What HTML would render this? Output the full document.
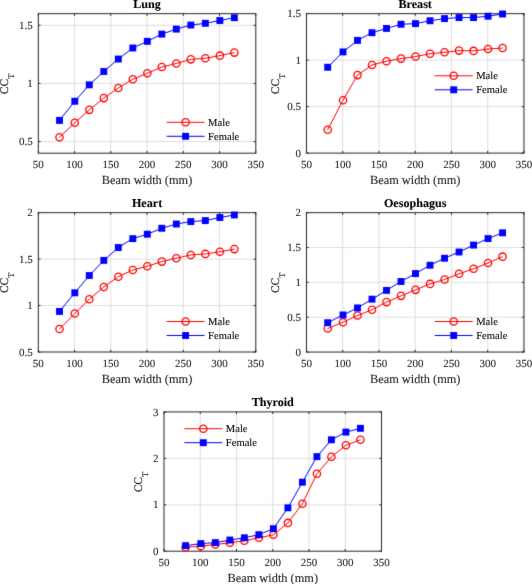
<!DOCTYPE html>
<html><head><meta charset="utf-8"><style>
html,body{margin:0;padding:0;background:#fff;width:532px;height:584px;overflow:hidden}
svg{display:block}
text{font-family:"Liberation Serif",serif;text-rendering:geometricPrecision;fill:#262626;stroke:#262626;stroke-width:0.1px}
.tl{font-size:11px}
.lb{font-size:12.35px}
.yl{font-size:11.5px;stroke-width:0.2px}
.tt{font-size:12.1px;font-weight:bold;fill:#000;stroke:#000}
.lg{font-size:10.6px;fill:#000;stroke:#000}
.g{stroke:#dedede;stroke-width:1.0}
.ax{fill:none;stroke:#262626;stroke-width:1.0}
.rl{fill:none;stroke:#f00;stroke-width:1.0}
.bl{fill:none;stroke:#00f;stroke-width:1.0}
.rc{fill:none;stroke:#f00;stroke-width:1.3}
.bs{fill:#00f}
</style></head><body>
<svg width="532" height="584" viewBox="0 0 532 584">
<defs><filter id="bl" x="0" y="0" width="532" height="584" filterUnits="userSpaceOnUse" color-interpolation-filters="sRGB"><feConvolveMatrix order="3" kernelMatrix="0.01134 0.08382 0.01134 0.08382 0.61935 0.08382 0.01134 0.08382 0.01134" edgeMode="duplicate"/></filter><filter id="bt" x="0" y="0" width="532" height="584" filterUnits="userSpaceOnUse" color-interpolation-filters="sRGB"><feConvolveMatrix order="3" kernelMatrix="0.00163 0.03713 0.00163 0.03713 0.84497 0.03713 0.00163 0.03713 0.00163" edgeMode="duplicate"/></filter></defs>
<g filter="url(#bl)"><rect width="532" height="584" fill="#fff"/>
<line x1="74.55" y1="13.65" x2="74.55" y2="153.2" class="g"/>
<line x1="110.8" y1="13.65" x2="110.8" y2="153.2" class="g"/>
<line x1="147.05" y1="13.65" x2="147.05" y2="153.2" class="g"/>
<line x1="183.3" y1="13.65" x2="183.3" y2="153.2" class="g"/>
<line x1="219.55" y1="13.65" x2="219.55" y2="153.2" class="g"/>
<line x1="38.3" y1="141.57" x2="255.8" y2="141.57" class="g"/>
<line x1="38.3" y1="83.43" x2="255.8" y2="83.43" class="g"/>
<line x1="38.3" y1="25.28" x2="255.8" y2="25.28" class="g"/>
<rect x="38.3" y="13.65" width="217.5" height="139.55" class="ax"/>
<path d="M38.3 153.2v-2.2M38.3 13.65v2.2M74.55 153.2v-2.2M74.55 13.65v2.2M110.8 153.2v-2.2M110.8 13.65v2.2M147.05 153.2v-2.2M147.05 13.65v2.2M183.3 153.2v-2.2M183.3 13.65v2.2M219.55 153.2v-2.2M219.55 13.65v2.2M255.8 153.2v-2.2M255.8 13.65v2.2M38.3 141.57h2.2M255.8 141.57h-2.2M38.3 83.43h2.2M255.8 83.43h-2.2M38.3 25.28h2.2M255.8 25.28h-2.2" class="ax"/>
<polyline points="59.5,137.19 74.8,122.77 89.3,109.85 103.81,98.1 118.31,87.98 132.82,79.2 147.32,73.33 161.83,67.04 176.34,63.44 190.84,59.37 205.35,58.32 219.85,55.64 234.36,52.62" class="rl"/>
<circle cx="59.5" cy="137.19" r="3.65" class="rc"/>
<circle cx="74.8" cy="122.77" r="3.65" class="rc"/>
<circle cx="89.3" cy="109.85" r="3.65" class="rc"/>
<circle cx="103.81" cy="98.1" r="3.65" class="rc"/>
<circle cx="118.31" cy="87.98" r="3.65" class="rc"/>
<circle cx="132.82" cy="79.2" r="3.65" class="rc"/>
<circle cx="147.32" cy="73.33" r="3.65" class="rc"/>
<circle cx="161.83" cy="67.04" r="3.65" class="rc"/>
<circle cx="176.34" cy="63.44" r="3.65" class="rc"/>
<circle cx="190.84" cy="59.37" r="3.65" class="rc"/>
<circle cx="205.35" cy="58.32" r="3.65" class="rc"/>
<circle cx="219.85" cy="55.64" r="3.65" class="rc"/>
<circle cx="234.36" cy="52.62" r="3.65" class="rc"/>
<polyline points="59.5,120.4 74.8,101.25 89.3,84.84 103.81,71.5 118.31,59.05 132.82,48 147.32,41.34 161.83,34.12 176.34,29.12 190.84,25.05 205.35,23.3 219.85,20.51 234.36,17.7" class="bl"/>
<rect x="56.05" y="116.95" width="6.9" height="6.9" class="bs"/>
<rect x="71.35" y="97.8" width="6.9" height="6.9" class="bs"/>
<rect x="85.85" y="81.39" width="6.9" height="6.9" class="bs"/>
<rect x="100.36" y="68.05" width="6.9" height="6.9" class="bs"/>
<rect x="114.86" y="55.6" width="6.9" height="6.9" class="bs"/>
<rect x="129.37" y="44.55" width="6.9" height="6.9" class="bs"/>
<rect x="143.88" y="37.89" width="6.9" height="6.9" class="bs"/>
<rect x="158.38" y="30.67" width="6.9" height="6.9" class="bs"/>
<rect x="172.89" y="25.67" width="6.9" height="6.9" class="bs"/>
<rect x="187.39" y="21.6" width="6.9" height="6.9" class="bs"/>
<rect x="201.9" y="19.85" width="6.9" height="6.9" class="bs"/>
<rect x="216.4" y="17.06" width="6.9" height="6.9" class="bs"/>
<rect x="230.91" y="14.25" width="6.9" height="6.9" class="bs"/>
<path d="M166.6 122.3h38" class="rl"/>
<circle cx="185.6" cy="122.3" r="3.65" class="rc"/>
<path d="M166.6 136.3h38" class="bl"/>
<rect x="182.15" y="132.85" width="6.9" height="6.9" class="bs"/>
<line x1="342.71" y1="13.65" x2="342.71" y2="153.1" class="g"/>
<line x1="378.96" y1="13.65" x2="378.96" y2="153.1" class="g"/>
<line x1="415.21" y1="13.65" x2="415.21" y2="153.1" class="g"/>
<line x1="451.46" y1="13.65" x2="451.46" y2="153.1" class="g"/>
<line x1="487.71" y1="13.65" x2="487.71" y2="153.1" class="g"/>
<line x1="306.46" y1="106.62" x2="523.96" y2="106.62" class="g"/>
<line x1="306.46" y1="60.13" x2="523.96" y2="60.13" class="g"/>
<rect x="306.46" y="13.65" width="217.5" height="139.45" class="ax"/>
<path d="M306.46 153.1v-2.2M306.46 13.65v2.2M342.71 153.1v-2.2M342.71 13.65v2.2M378.96 153.1v-2.2M378.96 13.65v2.2M415.21 153.1v-2.2M415.21 13.65v2.2M451.46 153.1v-2.2M451.46 13.65v2.2M487.71 153.1v-2.2M487.71 13.65v2.2M523.96 153.1v-2.2M523.96 13.65v2.2M306.46 153.1h2.2M523.96 153.1h-2.2M306.46 106.62h2.2M523.96 106.62h-2.2M306.46 60.13h2.2M523.96 60.13h-2.2M306.46 13.65h2.2M523.96 13.65h-2.2" class="ax"/>
<polyline points="327.7,129.69 343,100.27 357.5,75.12 372.01,65 386.51,61.2 401.02,58.6 415.52,56.56 430.03,53.78 444.54,52.29 459.04,50.62 473.55,50.9 488.05,49.04 502.56,48.02" class="rl"/>
<circle cx="327.7" cy="129.69" r="3.65" class="rc"/>
<circle cx="343" cy="100.27" r="3.65" class="rc"/>
<circle cx="357.5" cy="75.12" r="3.65" class="rc"/>
<circle cx="372.01" cy="65" r="3.65" class="rc"/>
<circle cx="386.51" cy="61.2" r="3.65" class="rc"/>
<circle cx="401.02" cy="58.6" r="3.65" class="rc"/>
<circle cx="415.52" cy="56.56" r="3.65" class="rc"/>
<circle cx="430.03" cy="53.78" r="3.65" class="rc"/>
<circle cx="444.54" cy="52.29" r="3.65" class="rc"/>
<circle cx="459.04" cy="50.62" r="3.65" class="rc"/>
<circle cx="473.55" cy="50.9" r="3.65" class="rc"/>
<circle cx="488.05" cy="49.04" r="3.65" class="rc"/>
<circle cx="502.56" cy="48.02" r="3.65" class="rc"/>
<polyline points="327.7,67.26 343,51.92 357.5,40.41 372.01,32.71 386.51,28.44 401.02,24.26 415.52,23.62 430.03,20.74 444.54,18.6 459.04,17.58 473.55,17.58 488.05,16.19 502.56,14" class="bl"/>
<rect x="324.25" y="63.81" width="6.9" height="6.9" class="bs"/>
<rect x="339.55" y="48.47" width="6.9" height="6.9" class="bs"/>
<rect x="354.06" y="36.96" width="6.9" height="6.9" class="bs"/>
<rect x="368.56" y="29.26" width="6.9" height="6.9" class="bs"/>
<rect x="383.06" y="24.99" width="6.9" height="6.9" class="bs"/>
<rect x="397.57" y="20.81" width="6.9" height="6.9" class="bs"/>
<rect x="412.07" y="20.17" width="6.9" height="6.9" class="bs"/>
<rect x="426.58" y="17.29" width="6.9" height="6.9" class="bs"/>
<rect x="441.09" y="15.15" width="6.9" height="6.9" class="bs"/>
<rect x="455.59" y="14.13" width="6.9" height="6.9" class="bs"/>
<rect x="470.1" y="14.13" width="6.9" height="6.9" class="bs"/>
<rect x="484.6" y="12.74" width="6.9" height="6.9" class="bs"/>
<rect x="499.11" y="10.55" width="6.9" height="6.9" class="bs"/>
<path d="M434.7 75.8h38" class="rl"/>
<circle cx="453.7" cy="75.8" r="3.65" class="rc"/>
<path d="M434.7 89.8h38" class="bl"/>
<rect x="450.25" y="86.35" width="6.9" height="6.9" class="bs"/>
<line x1="74.55" y1="212.65" x2="74.55" y2="352" class="g"/>
<line x1="110.8" y1="212.65" x2="110.8" y2="352" class="g"/>
<line x1="147.05" y1="212.65" x2="147.05" y2="352" class="g"/>
<line x1="183.3" y1="212.65" x2="183.3" y2="352" class="g"/>
<line x1="219.55" y1="212.65" x2="219.55" y2="352" class="g"/>
<line x1="38.3" y1="305.55" x2="255.8" y2="305.55" class="g"/>
<line x1="38.3" y1="259.1" x2="255.8" y2="259.1" class="g"/>
<rect x="38.3" y="212.65" width="217.5" height="139.35" class="ax"/>
<path d="M38.3 352v-2.2M38.3 212.65v2.2M74.55 352v-2.2M74.55 212.65v2.2M110.8 352v-2.2M110.8 212.65v2.2M147.05 352v-2.2M147.05 212.65v2.2M183.3 352v-2.2M183.3 212.65v2.2M219.55 352v-2.2M219.55 212.65v2.2M255.8 352v-2.2M255.8 212.65v2.2M38.3 352h2.2M255.8 352h-2.2M38.3 305.55h2.2M255.8 305.55h-2.2M38.3 259.1h2.2M255.8 259.1h-2.2M38.3 212.65h2.2M255.8 212.65h-2.2" class="ax"/>
<polyline points="59.5,328.93 74.8,313.56 89.3,299.2 103.81,286.98 118.31,276.7 132.82,270.03 147.32,266.24 161.83,261.61 176.34,258.18 190.84,254.94 205.35,253.92 219.85,251.79 234.36,249.11" class="rl"/>
<circle cx="59.5" cy="328.93" r="3.65" class="rc"/>
<circle cx="74.8" cy="313.56" r="3.65" class="rc"/>
<circle cx="89.3" cy="299.2" r="3.65" class="rc"/>
<circle cx="103.81" cy="286.98" r="3.65" class="rc"/>
<circle cx="118.31" cy="276.7" r="3.65" class="rc"/>
<circle cx="132.82" cy="270.03" r="3.65" class="rc"/>
<circle cx="147.32" cy="266.24" r="3.65" class="rc"/>
<circle cx="161.83" cy="261.61" r="3.65" class="rc"/>
<circle cx="176.34" cy="258.18" r="3.65" class="rc"/>
<circle cx="190.84" cy="254.94" r="3.65" class="rc"/>
<circle cx="205.35" cy="253.92" r="3.65" class="rc"/>
<circle cx="219.85" cy="251.79" r="3.65" class="rc"/>
<circle cx="234.36" cy="249.11" r="3.65" class="rc"/>
<polyline points="59.5,311.43 74.8,292.81 89.3,275.5 103.81,260.4 118.31,247.53 132.82,238.64 147.32,234.2 161.83,228.27 176.34,224.01 190.84,221.6 205.35,220.59 219.85,217.53 234.36,214.94" class="bl"/>
<rect x="56.05" y="307.98" width="6.9" height="6.9" class="bs"/>
<rect x="71.35" y="289.36" width="6.9" height="6.9" class="bs"/>
<rect x="85.85" y="272.05" width="6.9" height="6.9" class="bs"/>
<rect x="100.36" y="256.95" width="6.9" height="6.9" class="bs"/>
<rect x="114.86" y="244.08" width="6.9" height="6.9" class="bs"/>
<rect x="129.37" y="235.19" width="6.9" height="6.9" class="bs"/>
<rect x="143.88" y="230.75" width="6.9" height="6.9" class="bs"/>
<rect x="158.38" y="224.82" width="6.9" height="6.9" class="bs"/>
<rect x="172.89" y="220.56" width="6.9" height="6.9" class="bs"/>
<rect x="187.39" y="218.15" width="6.9" height="6.9" class="bs"/>
<rect x="201.9" y="217.14" width="6.9" height="6.9" class="bs"/>
<rect x="216.4" y="214.08" width="6.9" height="6.9" class="bs"/>
<rect x="230.91" y="211.49" width="6.9" height="6.9" class="bs"/>
<path d="M166.6 321.5h38" class="rl"/>
<circle cx="185.6" cy="321.5" r="3.65" class="rc"/>
<path d="M166.6 335.5h38" class="bl"/>
<rect x="182.15" y="332.05" width="6.9" height="6.9" class="bs"/>
<line x1="342.71" y1="212.65" x2="342.71" y2="352.05" class="g"/>
<line x1="378.96" y1="212.65" x2="378.96" y2="352.05" class="g"/>
<line x1="415.21" y1="212.65" x2="415.21" y2="352.05" class="g"/>
<line x1="451.46" y1="212.65" x2="451.46" y2="352.05" class="g"/>
<line x1="487.71" y1="212.65" x2="487.71" y2="352.05" class="g"/>
<line x1="306.46" y1="317.2" x2="523.96" y2="317.2" class="g"/>
<line x1="306.46" y1="282.35" x2="523.96" y2="282.35" class="g"/>
<line x1="306.46" y1="247.5" x2="523.96" y2="247.5" class="g"/>
<rect x="306.46" y="212.65" width="217.5" height="139.4" class="ax"/>
<path d="M306.46 352.05v-2.2M306.46 212.65v2.2M342.71 352.05v-2.2M342.71 212.65v2.2M378.96 352.05v-2.2M378.96 212.65v2.2M415.21 352.05v-2.2M415.21 212.65v2.2M451.46 352.05v-2.2M451.46 212.65v2.2M487.71 352.05v-2.2M487.71 212.65v2.2M523.96 352.05v-2.2M523.96 212.65v2.2M306.46 352.05h2.2M523.96 352.05h-2.2M306.46 317.2h2.2M523.96 317.2h-2.2M306.46 282.35h2.2M523.96 282.35h-2.2M306.46 247.5h2.2M523.96 247.5h-2.2M306.46 212.65h2.2M523.96 212.65h-2.2" class="ax"/>
<polyline points="327.7,328.53 343,322.24 357.5,315.52 372.01,309.78 386.51,302.1 401.02,295.87 415.52,289.85 430.03,283.9 444.54,279.47 459.04,273.8 473.55,268.81 488.05,263 502.56,256.63" class="rl"/>
<circle cx="327.7" cy="328.53" r="3.65" class="rc"/>
<circle cx="343" cy="322.24" r="3.65" class="rc"/>
<circle cx="357.5" cy="315.52" r="3.65" class="rc"/>
<circle cx="372.01" cy="309.78" r="3.65" class="rc"/>
<circle cx="386.51" cy="302.1" r="3.65" class="rc"/>
<circle cx="401.02" cy="295.87" r="3.65" class="rc"/>
<circle cx="415.52" cy="289.85" r="3.65" class="rc"/>
<circle cx="430.03" cy="283.9" r="3.65" class="rc"/>
<circle cx="444.54" cy="279.47" r="3.65" class="rc"/>
<circle cx="459.04" cy="273.8" r="3.65" class="rc"/>
<circle cx="473.55" cy="268.81" r="3.65" class="rc"/>
<circle cx="488.05" cy="263" r="3.65" class="rc"/>
<circle cx="502.56" cy="256.63" r="3.65" class="rc"/>
<polyline points="327.7,322.72 343,314.97 357.5,307.91 372.01,299.19 386.51,290.4 401.02,281.48 415.52,273.59 430.03,265.22 444.54,258.23 459.04,252 473.55,245.08 488.05,238.57 502.56,232.83" class="bl"/>
<rect x="324.25" y="319.27" width="6.9" height="6.9" class="bs"/>
<rect x="339.55" y="311.52" width="6.9" height="6.9" class="bs"/>
<rect x="354.06" y="304.46" width="6.9" height="6.9" class="bs"/>
<rect x="368.56" y="295.74" width="6.9" height="6.9" class="bs"/>
<rect x="383.06" y="286.95" width="6.9" height="6.9" class="bs"/>
<rect x="397.57" y="278.03" width="6.9" height="6.9" class="bs"/>
<rect x="412.07" y="270.14" width="6.9" height="6.9" class="bs"/>
<rect x="426.58" y="261.77" width="6.9" height="6.9" class="bs"/>
<rect x="441.09" y="254.78" width="6.9" height="6.9" class="bs"/>
<rect x="455.59" y="248.55" width="6.9" height="6.9" class="bs"/>
<rect x="470.1" y="241.63" width="6.9" height="6.9" class="bs"/>
<rect x="484.6" y="235.12" width="6.9" height="6.9" class="bs"/>
<rect x="499.11" y="229.38" width="6.9" height="6.9" class="bs"/>
<path d="M434.7 321.5h38" class="rl"/>
<circle cx="453.7" cy="321.5" r="3.65" class="rc"/>
<path d="M434.7 335.5h38" class="bl"/>
<rect x="450.25" y="332.05" width="6.9" height="6.9" class="bs"/>
<line x1="200.25" y1="411.9" x2="200.25" y2="551.2" class="g"/>
<line x1="236.5" y1="411.9" x2="236.5" y2="551.2" class="g"/>
<line x1="272.75" y1="411.9" x2="272.75" y2="551.2" class="g"/>
<line x1="309" y1="411.9" x2="309" y2="551.2" class="g"/>
<line x1="345.25" y1="411.9" x2="345.25" y2="551.2" class="g"/>
<line x1="164" y1="504.77" x2="381.5" y2="504.77" class="g"/>
<line x1="164" y1="458.33" x2="381.5" y2="458.33" class="g"/>
<rect x="164" y="411.9" width="217.5" height="139.3" class="ax"/>
<path d="M164 551.2v-2.2M164 411.9v2.2M200.25 551.2v-2.2M200.25 411.9v2.2M236.5 551.2v-2.2M236.5 411.9v2.2M272.75 551.2v-2.2M272.75 411.9v2.2M309 551.2v-2.2M309 411.9v2.2M345.25 551.2v-2.2M345.25 411.9v2.2M381.5 551.2v-2.2M381.5 411.9v2.2M164 551.2h2.2M381.5 551.2h-2.2M164 504.77h2.2M381.5 504.77h-2.2M164 458.33h2.2M381.5 458.33h-2.2M164 411.9h2.2M381.5 411.9h-2.2" class="ax"/>
<polyline points="185.57,547.38 200.87,546.18 215.38,544.48 229.88,542.78 244.38,540.71 258.89,537.81 273.39,534.82 287.9,522.91 302.41,503.68 316.91,473.78 331.42,456.8 345.92,445.3 360.43,439.78" class="rl"/>
<circle cx="185.57" cy="547.38" r="3.65" class="rc"/>
<circle cx="200.87" cy="546.18" r="3.65" class="rc"/>
<circle cx="215.38" cy="544.48" r="3.65" class="rc"/>
<circle cx="229.88" cy="542.78" r="3.65" class="rc"/>
<circle cx="244.38" cy="540.71" r="3.65" class="rc"/>
<circle cx="258.89" cy="537.81" r="3.65" class="rc"/>
<circle cx="273.39" cy="534.82" r="3.65" class="rc"/>
<circle cx="287.9" cy="522.91" r="3.65" class="rc"/>
<circle cx="302.41" cy="503.68" r="3.65" class="rc"/>
<circle cx="316.91" cy="473.78" r="3.65" class="rc"/>
<circle cx="331.42" cy="456.8" r="3.65" class="rc"/>
<circle cx="345.92" cy="445.3" r="3.65" class="rc"/>
<circle cx="360.43" cy="439.78" r="3.65" class="rc"/>
<polyline points="185.57,545.65 200.87,543.61 215.38,542.59 229.88,540.02 244.38,537.81 258.89,534.68 273.39,528.7 287.9,507.82 302.41,482.2 316.91,456.62 331.42,439.78 345.92,432.1 360.43,428.35" class="bl"/>
<rect x="182.12" y="542.2" width="6.9" height="6.9" class="bs"/>
<rect x="197.42" y="540.16" width="6.9" height="6.9" class="bs"/>
<rect x="211.93" y="539.14" width="6.9" height="6.9" class="bs"/>
<rect x="226.43" y="536.57" width="6.9" height="6.9" class="bs"/>
<rect x="240.94" y="534.36" width="6.9" height="6.9" class="bs"/>
<rect x="255.44" y="531.23" width="6.9" height="6.9" class="bs"/>
<rect x="269.94" y="525.25" width="6.9" height="6.9" class="bs"/>
<rect x="284.45" y="504.37" width="6.9" height="6.9" class="bs"/>
<rect x="298.96" y="478.75" width="6.9" height="6.9" class="bs"/>
<rect x="313.46" y="453.17" width="6.9" height="6.9" class="bs"/>
<rect x="327.97" y="436.33" width="6.9" height="6.9" class="bs"/>
<rect x="342.47" y="428.65" width="6.9" height="6.9" class="bs"/>
<rect x="356.98" y="424.9" width="6.9" height="6.9" class="bs"/>
<path d="M184.3 428.7h38" class="rl"/>
<circle cx="203.3" cy="428.7" r="3.65" class="rc"/>
<path d="M184.3 442.7h38" class="bl"/>
<rect x="199.85" y="439.25" width="6.9" height="6.9" class="bs"/>

</g>
<g filter="url(#bt)"><text x="38.3" y="168.2" class="tl" text-anchor="middle">50</text>
<text x="74.55" y="168.2" class="tl" text-anchor="middle">100</text>
<text x="110.8" y="168.2" class="tl" text-anchor="middle">150</text>
<text x="147.05" y="168.2" class="tl" text-anchor="middle">200</text>
<text x="183.3" y="168.2" class="tl" text-anchor="middle">250</text>
<text x="219.55" y="168.2" class="tl" text-anchor="middle">300</text>
<text x="255.8" y="168.2" class="tl" text-anchor="middle">350</text>
<text x="32.8" y="145.27" class="tl" text-anchor="end">0.5</text>
<text x="32.8" y="87.13" class="tl" text-anchor="end">1</text>
<text x="32.8" y="28.98" class="tl" text-anchor="end">1.5</text>
<text x="147.05" y="184" class="lb" text-anchor="middle">Beam width (mm)</text>
<text transform="translate(7.7 83.93) rotate(-90)" class="yl" text-anchor="middle">CC<tspan font-size="8.5" dy="5.8">T</tspan></text>
<text x="147.05" y="8.15" class="tt" text-anchor="middle">Lung</text>
<text x="208.1" y="125.8" class="lg">Male</text>
<text x="208.1" y="139.8" class="lg">Female</text>
<text x="306.46" y="168.1" class="tl" text-anchor="middle">50</text>
<text x="342.71" y="168.1" class="tl" text-anchor="middle">100</text>
<text x="378.96" y="168.1" class="tl" text-anchor="middle">150</text>
<text x="415.21" y="168.1" class="tl" text-anchor="middle">200</text>
<text x="451.46" y="168.1" class="tl" text-anchor="middle">250</text>
<text x="487.71" y="168.1" class="tl" text-anchor="middle">300</text>
<text x="523.96" y="168.1" class="tl" text-anchor="middle">350</text>
<text x="300.96" y="156.8" class="tl" text-anchor="end">0</text>
<text x="300.96" y="110.32" class="tl" text-anchor="end">0.5</text>
<text x="300.96" y="63.83" class="tl" text-anchor="end">1</text>
<text x="300.96" y="17.35" class="tl" text-anchor="end">1.5</text>
<text x="415.21" y="183.9" class="lb" text-anchor="middle">Beam width (mm)</text>
<text transform="translate(279.16 83.88) rotate(-90)" class="yl" text-anchor="middle">CC<tspan font-size="8.5" dy="5.8">T</tspan></text>
<text x="415.21" y="8.15" class="tt" text-anchor="middle">Breast</text>
<text x="476.2" y="79.3" class="lg">Male</text>
<text x="476.2" y="93.3" class="lg">Female</text>
<text x="38.3" y="367" class="tl" text-anchor="middle">50</text>
<text x="74.55" y="367" class="tl" text-anchor="middle">100</text>
<text x="110.8" y="367" class="tl" text-anchor="middle">150</text>
<text x="147.05" y="367" class="tl" text-anchor="middle">200</text>
<text x="183.3" y="367" class="tl" text-anchor="middle">250</text>
<text x="219.55" y="367" class="tl" text-anchor="middle">300</text>
<text x="255.8" y="367" class="tl" text-anchor="middle">350</text>
<text x="32.8" y="355.7" class="tl" text-anchor="end">0.5</text>
<text x="32.8" y="309.25" class="tl" text-anchor="end">1</text>
<text x="32.8" y="262.8" class="tl" text-anchor="end">1.5</text>
<text x="32.8" y="216.35" class="tl" text-anchor="end">2</text>
<text x="147.05" y="382.8" class="lb" text-anchor="middle">Beam width (mm)</text>
<text transform="translate(7.9 282.82) rotate(-90)" class="yl" text-anchor="middle">CC<tspan font-size="8.5" dy="5.8">T</tspan></text>
<text x="147.05" y="207.15" class="tt" text-anchor="middle">Heart</text>
<text x="208.1" y="325" class="lg">Male</text>
<text x="208.1" y="339" class="lg">Female</text>
<text x="306.46" y="367.05" class="tl" text-anchor="middle">50</text>
<text x="342.71" y="367.05" class="tl" text-anchor="middle">100</text>
<text x="378.96" y="367.05" class="tl" text-anchor="middle">150</text>
<text x="415.21" y="367.05" class="tl" text-anchor="middle">200</text>
<text x="451.46" y="367.05" class="tl" text-anchor="middle">250</text>
<text x="487.71" y="367.05" class="tl" text-anchor="middle">300</text>
<text x="523.96" y="367.05" class="tl" text-anchor="middle">350</text>
<text x="300.96" y="355.75" class="tl" text-anchor="end">0</text>
<text x="300.96" y="320.9" class="tl" text-anchor="end">0.5</text>
<text x="300.96" y="286.05" class="tl" text-anchor="end">1</text>
<text x="300.96" y="251.2" class="tl" text-anchor="end">1.5</text>
<text x="300.96" y="216.35" class="tl" text-anchor="end">2</text>
<text x="415.21" y="382.85" class="lb" text-anchor="middle">Beam width (mm)</text>
<text transform="translate(279.16 282.85) rotate(-90)" class="yl" text-anchor="middle">CC<tspan font-size="8.5" dy="5.8">T</tspan></text>
<text x="415.21" y="207.15" class="tt" text-anchor="middle">Oesophagus</text>
<text x="476.2" y="325" class="lg">Male</text>
<text x="476.2" y="339" class="lg">Female</text>
<text x="164" y="566.2" class="tl" text-anchor="middle">50</text>
<text x="200.25" y="566.2" class="tl" text-anchor="middle">100</text>
<text x="236.5" y="566.2" class="tl" text-anchor="middle">150</text>
<text x="272.75" y="566.2" class="tl" text-anchor="middle">200</text>
<text x="309" y="566.2" class="tl" text-anchor="middle">250</text>
<text x="345.25" y="566.2" class="tl" text-anchor="middle">300</text>
<text x="381.5" y="566.2" class="tl" text-anchor="middle">350</text>
<text x="158.5" y="554.9" class="tl" text-anchor="end">0</text>
<text x="158.5" y="508.47" class="tl" text-anchor="end">1</text>
<text x="158.5" y="462.03" class="tl" text-anchor="end">2</text>
<text x="158.5" y="415.6" class="tl" text-anchor="end">3</text>
<text x="272.75" y="582" class="lb" text-anchor="middle">Beam width (mm)</text>
<text transform="translate(142.4 482.05) rotate(-90)" class="yl" text-anchor="middle">CC<tspan font-size="8.5" dy="5.8">T</tspan></text>
<text x="272.75" y="406.4" class="tt" text-anchor="middle">Thyroid</text>
<text x="225.8" y="432.2" class="lg">Male</text>
<text x="225.8" y="446.2" class="lg">Female</text></g>
</svg>
</body></html>
